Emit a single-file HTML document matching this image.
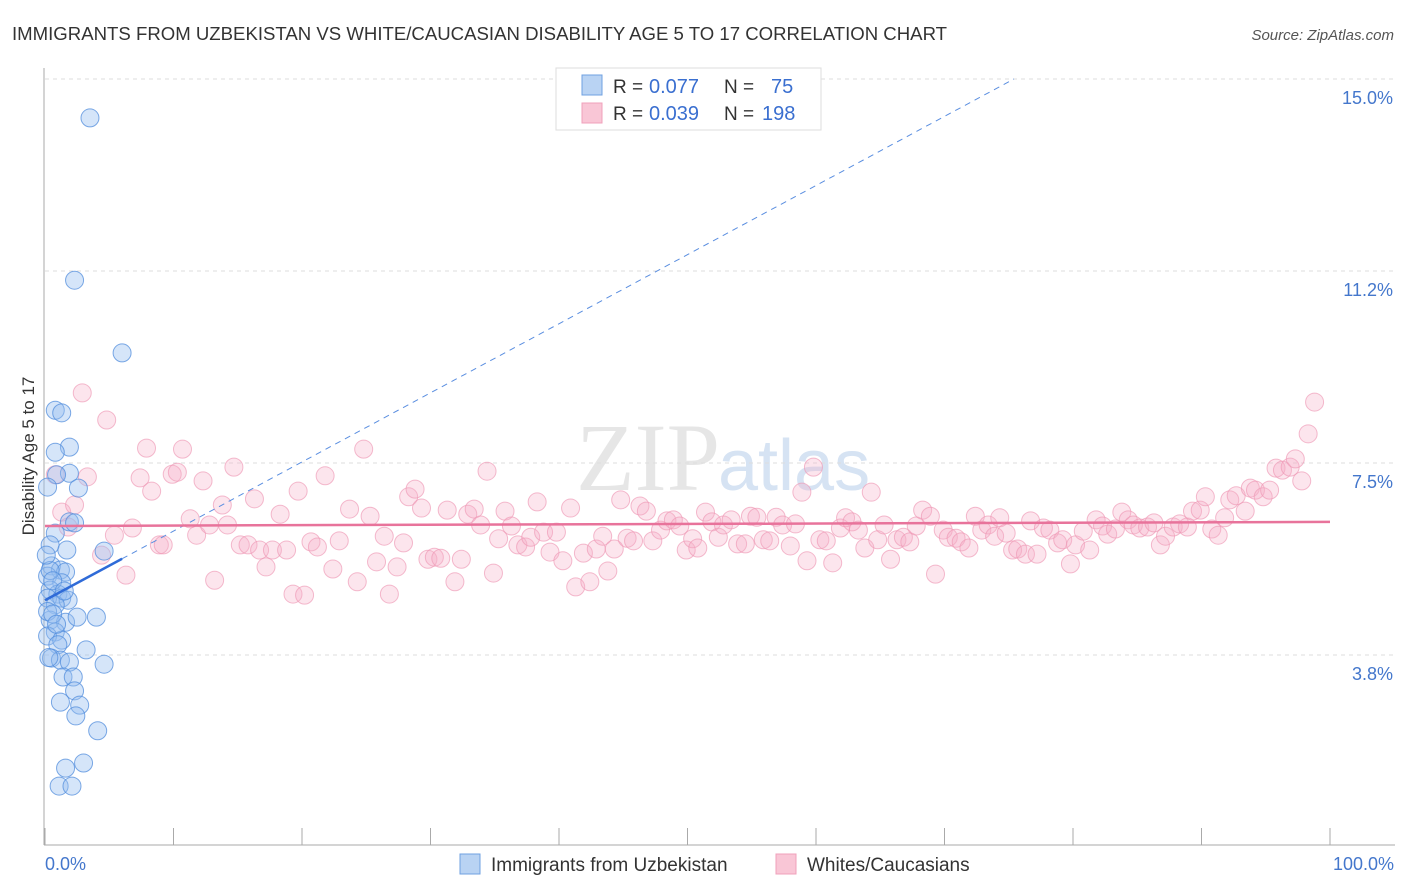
<!DOCTYPE html>
<html><head><meta charset="utf-8"><style>
body{margin:0;background:#fff;font-family:"Liberation Sans",sans-serif;}
svg{display:block}
</style></head><body>
<svg id="chart" width="1406" height="892">
<text x="12" y="40" font-size="18.6" fill="#333">IMMIGRANTS FROM UZBEKISTAN VS WHITE/CAUCASIAN DISABILITY AGE 5 TO 17 CORRELATION CHART</text>
<text x="1394" y="40" font-size="15" fill="#555" font-style="italic" text-anchor="end">Source: ZipAtlas.com</text>
<text x="720" y="490" font-size="96" fill="#e6e6e6" font-family="Liberation Serif,serif" text-anchor="end">ZIP</text>
<text x="718" y="490" font-size="72" fill="#d6e3f3">atlas</text>
<g id="grid"></g>
<g id="axes"></g>
<g id="pts"></g>
<g id="trend"></g>
<text transform="translate(34,456) rotate(-90)" font-size="17" fill="#333" text-anchor="middle">Disability Age 5 to 17</text>
<text x="45" y="870" font-size="18" fill="#4477cc">0.0%</text>
<text x="1394" y="870" font-size="18" fill="#4477cc" text-anchor="end">100.0%</text>
<g>
<rect x="556" y="68" width="265" height="62" fill="#fff" stroke="#ddd"/>
<rect x="582" y="75" width="20" height="20" fill="#b9d3f3" stroke="#6fa0e0"/>
<rect x="582" y="103" width="20" height="20" fill="#f9c6d6" stroke="#f0a0bb"/>
<text x="613" y="93" font-size="19" fill="#333">R =</text>
<text x="649" y="93" font-size="20" fill="#3a6fd0">0.077</text>
<text x="724" y="93" font-size="19" fill="#333">N =</text>
<text x="771" y="93" font-size="20" fill="#3a6fd0">75</text>
<text x="613" y="120" font-size="19" fill="#333">R =</text>
<text x="649" y="120" font-size="20" fill="#3a6fd0">0.039</text>
<text x="724" y="120" font-size="19" fill="#333">N =</text>
<text x="762" y="120" font-size="20" fill="#3a6fd0">198</text>
</g>
<g>
<rect x="460" y="854" width="20" height="20" fill="#b9d3f3" stroke="#6fa0e0"/>
<text x="491" y="871" font-size="19" fill="#333">Immigrants from Uzbekistan</text>
<rect x="776" y="854" width="20" height="20" fill="#f9c6d6" stroke="#f0a0bb"/>
<text x="807" y="871" font-size="19" fill="#333">Whites/Caucasians</text>
</g>
</svg>
<script>
const yTicks=[3.75,7.5,11.25,15];
const yTickLabels=["3.8%","7.5%","11.2%","15.0%"];
const blueX=[3.5,2.3,6.0,0.8,1.3,1.9,0.8,1.9,0.9,2.6,0.2,1.9,2.3,0.8,0.4,1.7,4.6,0.5,1.2,1.6,0.2,1.3,0.4,1.0,0.2,1.3,1.8,0.8,4.0,0.4,1.6,2.5,0.8,0.2,1.3,1.0,3.2,0.5,1.2,4.6,1.9,1.4,2.2,2.3,1.2,2.7,2.4,4.1,1.6,3.0,1.1,2.1,0.4,0.6,0.2,0.6,0.9,0.3,1.5,0.1];
const blueY=[14.24,11.07,9.65,8.53,8.48,7.81,7.71,7.30,7.27,7.01,7.03,6.35,6.33,6.13,5.90,5.80,5.78,5.49,5.41,5.37,5.29,5.16,5.02,4.94,4.86,4.86,4.82,4.73,4.49,4.43,4.39,4.49,4.20,4.12,4.04,3.95,3.85,3.69,3.65,3.57,3.61,3.32,3.32,3.05,2.83,2.77,2.56,2.27,1.54,1.64,1.19,1.19,5.40,5.20,4.60,4.55,4.35,3.70,5.00,5.70];
const pinkX=[2.9,4.8,0.8,3.3,1.3,2.3,1.8,5.4,4.4,6.3,6.8,7.4,7.9,8.3,8.9,9.2,9.9,10.3,10.7,11.3,11.8,12.3,12.8,13.2,13.8,14.2,14.7,15.2,15.8,16.3,16.7,17.2,17.7,18.3,18.8,19.3,19.7,20.2,20.7,21.2,21.8,22.4,22.9,23.7,24.3,24.8,25.3,25.8,26.4,26.8,27.4,27.9,28.3,28.8,29.3,29.8,30.3,30.8,31.3,31.9,32.4,32.9,33.4,33.9,34.4,34.9,35.3,35.8,36.3,36.8,37.4,37.8,38.3,38.8,39.3,39.8,40.3,40.9,41.3,41.9,42.4,42.9,43.4,43.8,44.3,44.8,45.3,45.8,46.3,46.8,47.3,47.9,48.4,48.9,49.4,49.9,50.4,50.8,51.4,51.9,52.4,52.8,53.4,53.9,54.5,54.9,55.4,55.9,56.4,56.9,57.4,58.0,58.4,58.9,59.3,59.8,60.3,60.8,61.3,61.9,62.3,62.8,63.3,63.8,64.3,64.8,65.3,65.8,66.3,66.8,67.3,67.8,68.3,68.9,69.3,69.9,70.3,70.9,71.3,71.9,72.4,72.9,73.4,73.9,74.3,74.8,75.3,75.7,76.3,76.7,77.2,77.7,78.2,78.8,79.2,79.8,80.2,80.8,81.3,81.8,82.3,82.7,83.3,83.8,84.3,84.7,85.2,85.8,86.3,86.8,87.2,87.8,88.3,88.9,89.3,89.9,90.3,90.8,91.3,91.8,92.2,92.7,93.4,93.8,94.2,94.8,95.3,95.8,96.3,96.9,97.3,97.8,98.3,98.8];
const pinkY=[8.87,8.34,7.27,7.23,6.54,6.68,6.25,6.09,5.70,5.31,6.23,7.21,7.79,6.95,5.90,5.90,7.28,7.32,7.77,6.41,6.09,7.15,6.29,5.21,6.68,6.29,7.42,5.90,5.90,6.80,5.80,5.47,5.80,6.50,5.80,4.94,6.95,4.92,5.96,5.86,7.25,5.43,5.98,6.60,5.18,7.77,6.46,5.57,6.07,4.94,5.47,5.94,6.84,6.99,6.62,5.62,5.66,5.64,6.58,5.18,5.62,6.50,6.60,6.29,7.34,5.35,6.02,6.56,6.27,5.90,5.86,6.05,6.74,6.15,5.76,6.15,5.59,6.62,5.08,5.74,5.18,5.82,6.07,5.39,5.82,6.78,6.03,5.98,6.66,6.56,5.98,6.19,6.37,6.39,6.27,5.80,6.02,5.84,6.54,6.35,6.05,6.29,6.39,5.92,5.92,6.46,6.44,6.00,5.98,6.44,6.29,5.88,6.31,6.93,5.59,7.42,6.00,5.98,5.55,6.23,6.43,6.35,6.19,5.84,6.93,6.00,6.29,5.62,6.00,6.05,5.96,6.27,6.58,6.46,5.33,6.19,6.05,6.03,5.96,5.84,6.46,6.19,6.29,6.07,6.43,6.13,5.80,5.82,5.72,6.37,5.72,6.23,6.19,5.94,6.00,5.53,5.90,6.17,5.80,6.39,6.27,6.11,6.21,6.54,6.39,6.29,6.23,6.25,6.33,5.90,6.07,6.25,6.31,6.25,6.56,6.58,6.84,6.21,6.09,6.43,6.78,6.86,6.56,7.01,6.97,6.84,6.97,7.40,7.36,7.42,7.58,7.15,8.07,8.69];
const blueTrend=[4.82,0.135];
const pinkTrend=[6.27,0.0008];
const NS="http://www.w3.org/2000/svg";
const X=v=>45+v*12.85;
const Y=v=>847-v*51.2;
function mk(tag,attrs,parent){const e=document.createElementNS(NS,tag);for(const k in attrs)e.setAttribute(k,attrs[k]);document.getElementById(parent).appendChild(e);return e;}
yTicks.forEach((t,i)=>{
 const g=mk('line',{x1:45,x2:1395,y1:Y(t),y2:Y(t),stroke:'#ddd','stroke-dasharray':'4,4'},'grid');
 
 
 const tx=mk('text',{x:1393,y:Y(t)+25,'font-size':18,fill:'#4477cc','text-anchor':'end'},'grid');
 tx.textContent=yTickLabels[i];
 
 
});
const ax=mk('line',{x1:44,x2:44,y1:68,y2:845,stroke:'#aaa'},'axes');


const bx=mk('line',{x1:44,x2:1395,y1:845,y2:845,stroke:'#aaa'},'axes');


for(let i=0;i<=10;i++){
 const t=mk('line',{x1:X(i*10),x2:X(i*10),y1:828,y2:845,stroke:'#aaa'},'axes');
 
 
}
pinkX.forEach((x,i)=>{
 const c=mk('circle',{cx:X(x),cy:Y(pinkY[i]),r:9,fill:'rgba(247,175,200,0.32)',stroke:'rgba(238,150,180,0.65)','stroke-width':1},'pts');
 
 
});
blueX.forEach((x,i)=>{
 const c=mk('circle',{cx:X(x),cy:Y(blueY[i]),r:9,fill:'rgba(150,190,240,0.4)',stroke:'rgba(80,140,220,0.75)','stroke-width':1},'pts');
 
 
});
const bEnd=(15-blueTrend[0])/blueTrend[1];
const d=mk('line',{x1:X(6),y1:Y(blueTrend[0]+blueTrend[1]*6),x2:X(bEnd),y2:Y(15),stroke:'#5a8ee0','stroke-width':1,'stroke-dasharray':'6,5'},'trend');


const s=mk('line',{x1:X(0),y1:Y(blueTrend[0]),x2:X(6),y2:Y(blueTrend[0]+blueTrend[1]*6),stroke:'#2f6bd8','stroke-width':2.5},'trend');


const p=mk('line',{x1:X(0),y1:Y(pinkTrend[0]),x2:X(100),y2:Y(pinkTrend[0]+pinkTrend[1]*100),stroke:'#e8739b','stroke-width':2.5},'trend');


</script>
</body></html>
